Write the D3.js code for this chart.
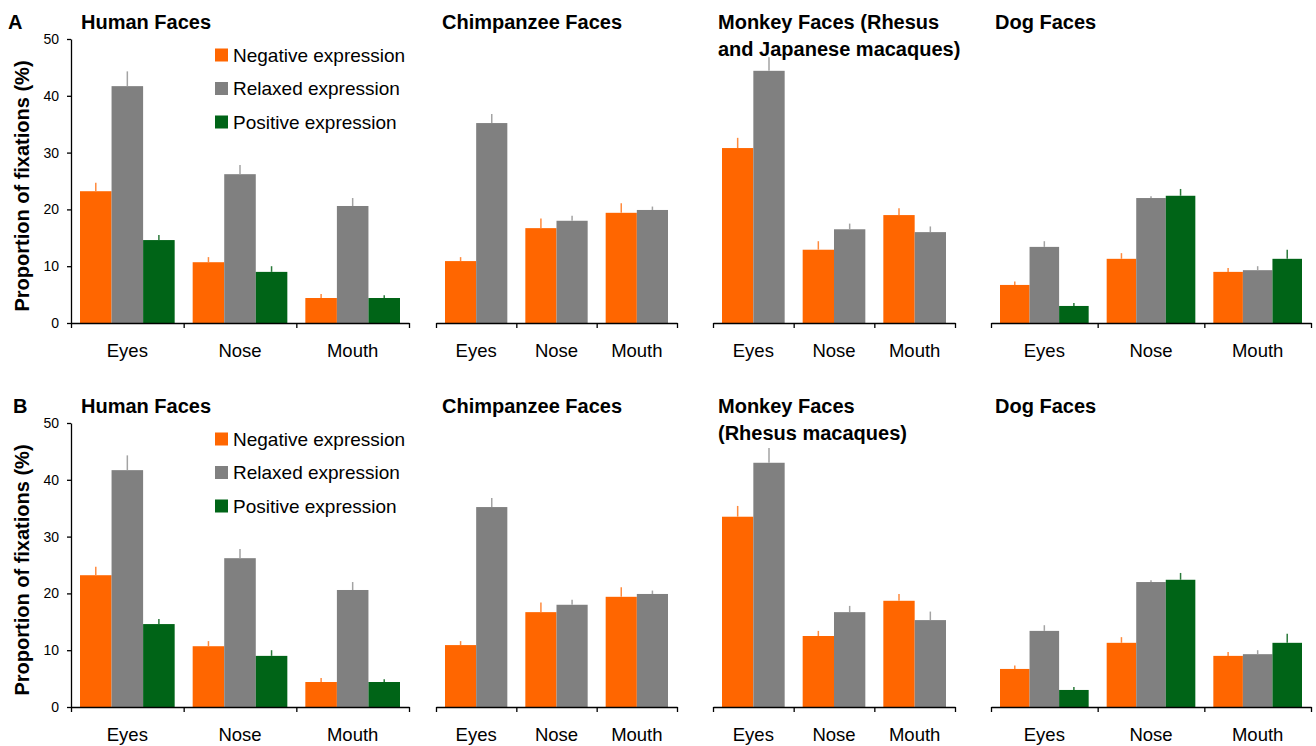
<!DOCTYPE html>
<html>
<head>
<meta charset="UTF-8">
<title>Proportion of fixations</title>
<script src="https://d3js.org/d3.v7.min.js"></script>
<style>
  body { margin: 0; background: #fff; }
  text { font-family: "Liberation Sans", Arial, sans-serif; fill: #000; }
</style>
</head>
<body>
<div id="chart"></div>
<script>
// categories and series
var categories = ["Eyes", "Nose", "Mouth"];
var seriesNames = ["Negative expression", "Relaxed expression", "Positive expression"];
var yTicks = [0, 10, 20, 30, 40, 50];

// human faces (same in A and B)
var humanNeg = [23.2, 10.7, 4.4],  humanNegErr = [1.5, 0.9, 0.7];
var humanRel = [41.7, 26.2, 20.6], humanRelErr = [2.6, 1.6, 1.4];
var humanPos = [14.6, 9.0, 4.4],   humanPosErr = [0.9, 1.0, 0.5];

// chimpanzee faces
var chimpNeg = [10.9, 16.7, 19.4], chimpNegErr = [0.7, 1.7, 1.7];
var chimpRel = [35.2, 18.0, 19.9], chimpRelErr = [1.6, 0.9, 0.6];

// monkey faces, A: rhesus + japanese, B: rhesus only
var monkeyANeg = [30.8, 12.9, 19.0], monkeyANegErr = [1.8, 1.5, 1.2];
var monkeyARel = [44.4, 16.5, 16.0], monkeyARelErr = [2.4, 1.0, 1.0];
var monkeyBNeg = [33.5, 12.5, 18.7], monkeyBNegErr = [1.9, 0.9, 1.2];
var monkeyBRel = [43.0, 16.7, 15.3], monkeyBRelErr = [2.6, 1.1, 1.5];

// dog faces
var dogNeg = [6.7, 11.3, 9.0],  dogNegErr = [0.6, 1.0, 0.7];
var dogRel = [13.4, 22.0, 9.3], dogRelErr = [1.0, 0.3, 0.7];
var dogPos = [3.0, 22.4, 11.3], dogPosErr = [0.5, 1.2, 1.6];

var colors = ["#ff6600", "#808080", "#006417"];
var errColors = ["#ff8a3d", "#a3a3a3", "#2a7a3a"];

var W = 1316, H = 746;
var svg = d3.select("#chart").append("svg")
    .attr("width", W).attr("height", H);

function series(vals, errs) {
  return [vals, errs];
}

function buildRow(monkeyNeg, monkeyNegErr, monkeyRel, monkeyRelErr, monkeyTitle) {
  return [
    {title: ["Human Faces"], x0: 71, x1: 409, tx: 81, yAxis: true, legend: true,
     data: [series(humanNeg, humanNegErr), series(humanRel, humanRelErr), series(humanPos, humanPosErr)], idx: [0, 1, 2]},
    {title: ["Chimpanzee Faces"], x0: 436, x1: 677, tx: 442,
     data: [series(chimpNeg, chimpNegErr), series(chimpRel, chimpRelErr)], idx: [0, 1]},
    {title: monkeyTitle, x0: 713, x1: 955, tx: 718,
     data: [series(monkeyNeg, monkeyNegErr), series(monkeyRel, monkeyRelErr)], idx: [0, 1]},
    {title: ["Dog Faces"], x0: 991, x1: 1311, tx: 995,
     data: [series(dogNeg, dogNegErr), series(dogRel, dogRelErr), series(dogPos, dogPosErr)], idx: [0, 1, 2]}
  ];
}

var rows = [
  {label: "A", lx: 8, top: 0, panels: buildRow(monkeyANeg, monkeyANegErr, monkeyARel, monkeyARelErr,
      ["Monkey Faces (Rhesus", "and Japanese macaques)"])},
  {label: "B", lx: 13, top: 384, panels: buildRow(monkeyBNeg, monkeyBNegErr, monkeyBRel, monkeyBRelErr,
      ["Monkey Faces", "(Rhesus macaques)"])}
];

rows.forEach(function(row) {
  var g = svg.append("g").attr("transform", "translate(0," + row.top + ")");
  var y = d3.scaleLinear().domain([0, 50]).range([323, 39]);

  g.append("text").attr("x", row.lx).attr("y", 29)
    .attr("font-size", 20).attr("font-weight", "bold").text(row.label);

  // y axis label
  g.append("text")
    .attr("transform", "translate(29,186) rotate(-90)")
    .attr("text-anchor", "middle")
    .attr("font-size", 20).attr("font-weight", "bold")
    .text("Proportion of fixations (%)");

  row.panels.forEach(function(p) {
    var pg = g.append("g");
    var xBand = d3.scaleBand().domain(categories).range([p.x0, p.x1]).padding(0);
    var bw = xBand.bandwidth();
    var xInner = d3.scaleBand().domain(p.idx).range([9, bw - 9]).padding(0);
    var xLin = d3.scaleLinear().domain([0, categories.length]).range([p.x0, p.x1]);

    // title
    p.title.forEach(function(t, i) {
      pg.append("text").attr("x", p.tx).attr("y", 29 + i * 26.5)
        .attr("font-size", 20).attr("font-weight", "bold").text(t);
    });

    // bars
    p.data.forEach(function(s, si) {
      var ci = p.idx[si];
      var recs = categories.map(function(c, k) { return {cat: c, v: s[0][k], e: s[1][k]}; });
      pg.selectAll(null).data(recs).enter().append("rect")
        .attr("x", function(d) { return xBand(d.cat) + xInner(ci); })
        .attr("y", function(d) { return y(d.v); })
        .attr("width", xInner.bandwidth())
        .attr("height", function(d) { return y(0) - y(d.v); })
        .attr("fill", colors[ci]);
      pg.selectAll(null).data(recs).enter().append("line")
        .attr("x1", function(d) { return xBand(d.cat) + xInner(ci) + xInner.bandwidth() / 2; })
        .attr("x2", function(d) { return xBand(d.cat) + xInner(ci) + xInner.bandwidth() / 2; })
        .attr("y1", function(d) { return y(d.v); })
        .attr("y2", function(d) { return y(d.v + d.e); })
        .attr("stroke", errColors[ci]).attr("stroke-width", 1.5);
    });

    // x axis: boundary ticks + category labels
    var xa = pg.append("g").attr("transform", "translate(0," + y(0) + ")");
    xa.call(d3.axisBottom(xLin).tickValues([0, 1, 2, 3]).tickSize(5).tickSizeOuter(0).tickFormat(""));
    xa.selectAll("path, line").attr("stroke", "#000").attr("stroke-width", 1.3);
    var xl = pg.append("g").attr("transform", "translate(0," + y(0) + ")");
    xl.call(d3.axisBottom(xBand).tickSize(0).tickPadding(21));
    xl.select(".domain").remove();
    xl.selectAll("text").attr("font-size", 18.5)
      .attr("font-family", "'Liberation Sans', Arial, sans-serif").attr("fill", "#000");

    if (p.yAxis) {
      var ya = pg.append("g").attr("transform", "translate(" + p.x0 + ",0)");
      ya.call(d3.axisLeft(y).tickValues(yTicks).tickSize(4).tickSizeOuter(0).tickPadding(8));
      ya.selectAll("path, line").attr("stroke", "#000").attr("stroke-width", 1.3);
      ya.selectAll("text").attr("font-size", 14)
        .attr("font-family", "'Liberation Sans', Arial, sans-serif").attr("fill", "#000");
    }

    if (p.legend) {
      var lg = pg.append("g").attr("transform", "translate(215,55)");
      var items = lg.selectAll("g").data(seriesNames).enter().append("g")
        .attr("transform", function(d, i) { return "translate(0," + (i * 33.5) + ")"; });
      items.append("rect").attr("x", 0).attr("y", -6.5).attr("width", 13).attr("height", 13)
        .attr("fill", function(d, i) { return colors[i]; });
      items.append("text").attr("x", 18).attr("y", 0).attr("dy", "0.35em")
        .attr("font-size", 19).text(function(d) { return d; });
    }
  });
});
</script>
</body>
</html>
